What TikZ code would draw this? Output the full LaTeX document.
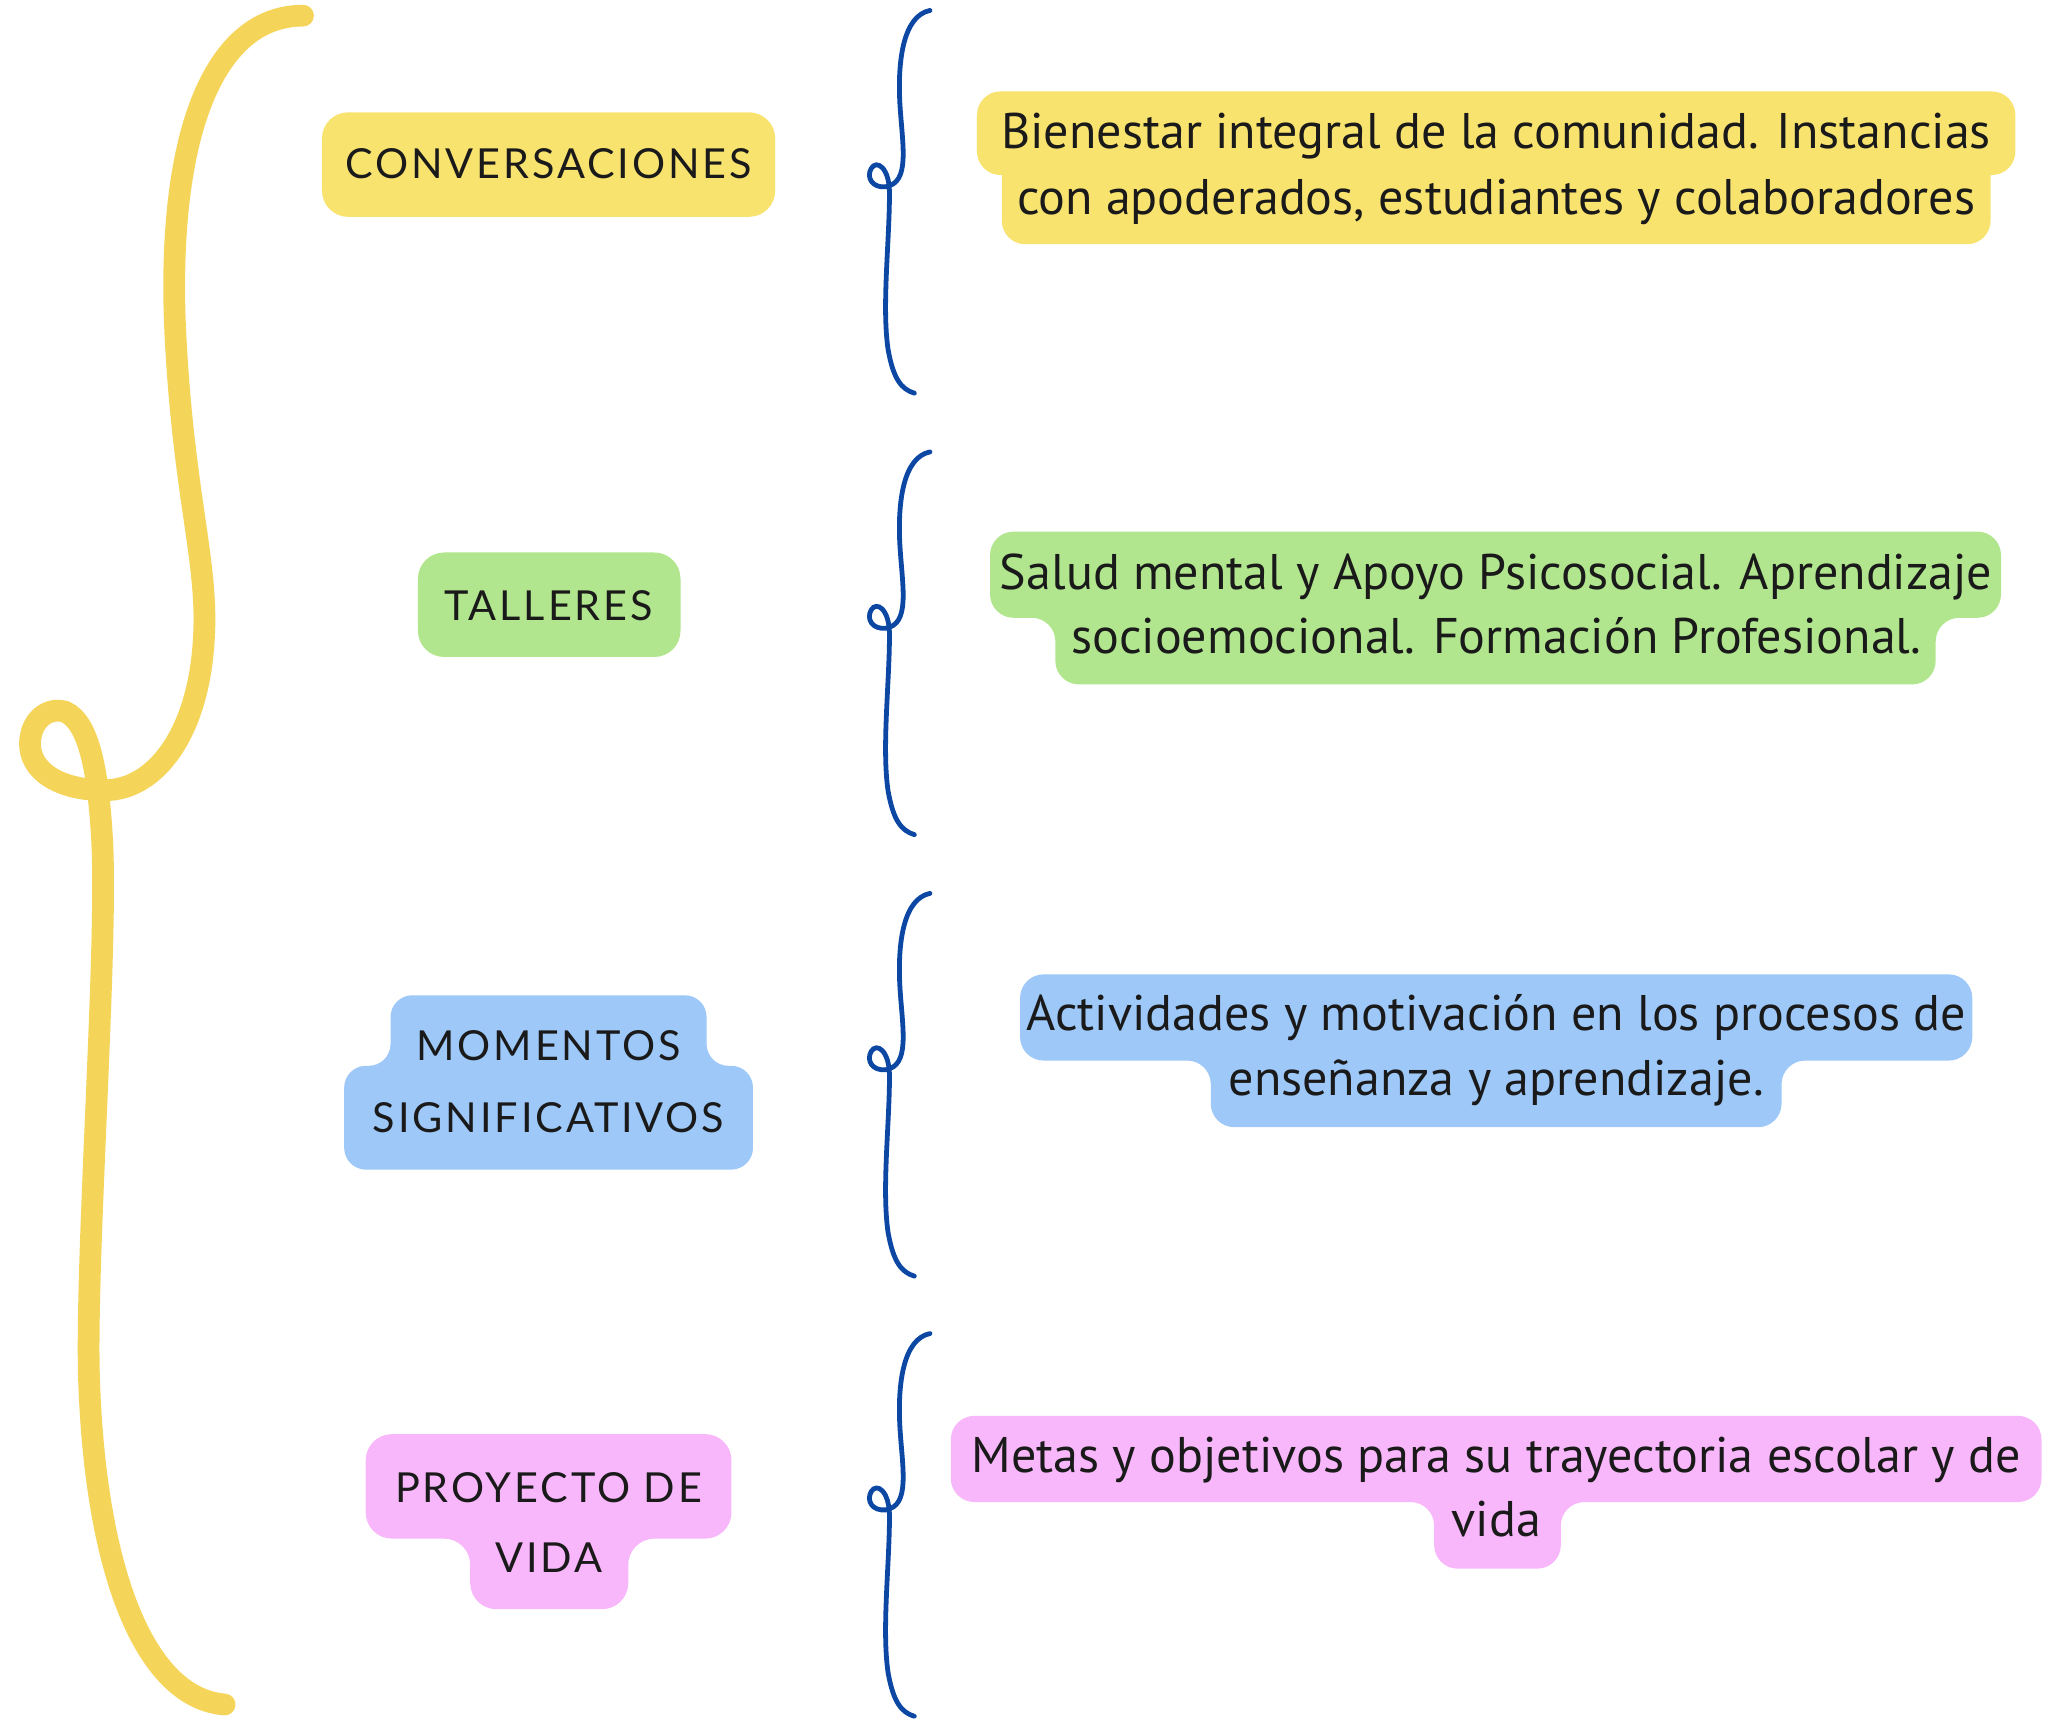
\documentclass[tikz,border=0pt]{standalone}
\usepackage{fontspec}
\setmainfont{PT Sans}
\newfontfamily\labelfont[LetterSpace=7]{Lato}
\definecolor{braceY}{HTML}{F4D55A}
\definecolor{boxY}{HTML}{F9E36F}
\definecolor{boxG}{HTML}{B1E68E}
\definecolor{boxB}{HTML}{9DC8F8}
\definecolor{boxP}{HTML}{F8B7FA}
\definecolor{braceB}{HTML}{0B47A3}
\definecolor{ink}{HTML}{1A1A1A}
% two stacked boxes: color, radius, topx1, topx2, topy, midy, botx1, botx2, boty
\newcommand\hugbox[9]{%
  \fill[#1, rounded corners=#2] (#3,#5) -- (#4,#5) -- (#4,#6) -- (#8,#6) -- (#8,#9) -- (#7,#9) -- (#7,#6) -- (#3,#6) -- cycle;}
\begin{document}
\begin{tikzpicture}[x=0.6pt,y=-0.6pt,
  lbl/.style={font=\labelfont\fontsize{19}{22}\selectfont, text=ink, inner sep=0pt, anchor=base},
  desc/.style={font=\fontsize{23}{28}\selectfont, text=ink, inner sep=0pt, anchor=base},
  bigbrace/.style={draw=braceY, line width=10pt, line cap=round},
  smallbrace/.style={draw=braceB, line width=2.2pt, line cap=round}]
\useasboundingbox (0,0) rectangle (1568,1318.4);

% ---- big yellow brace
\draw[bigbrace] (232,12) .. controls (165,12) and (128,100) .. (134,250)
  .. controls (140,380) and (160,430) .. (156,490)
  .. controls (152,560) and (120,605) .. (80,605)
  .. controls (45,605) and (22,590) .. (23,568)
  .. controls (24,550) and (38,541) .. (50,545)
  .. controls (68,553) and (75,590) .. (78,640)
  .. controls (83,720) and (66,950) .. (68,1050)
  .. controls (72,1200) and (110,1300) .. (172,1305);

% ---- small blue braces
\foreach \o in {0,338,676,1013}{
  \draw[smallbrace, shift={(0,\o)}] (712,8) .. controls (692,12) and (687,45) .. (689,80)
    .. controls (691,112) and (697,140) .. (678,143)
    .. controls (668,144) and (663,136) .. (667,129)
    .. controls (671,122) and (681,128) .. (681,148)
    .. controls (681,185) and (675,235) .. (680,268)
    .. controls (684,290) and (690,298) .. (700,301);
}

% ---- left label boxes
\fill[boxY, rounded corners=12pt] (246.5,86) rectangle (593.5,166);
\fill[boxG, rounded corners=12pt] (320,423) rectangle (521,503);
\hugbox{boxB}{10pt}{299}{541}{762}{816}{263.5}{576.5}{895.5}
\hugbox{boxP}{12pt}{280}{560}{1098}{1178}{360}{481}{1232}

\node[lbl] (conv) at (420,137) {CONVERSACIONES};
\node[lbl] (tall) at (420,475) {TALLERES};
\node[lbl] (mom1) at (420,812) {MOMENTOS};
\node[lbl] (mom2) at (420,867) {SIGNIFICATIVOS};
\node[lbl] (pro1) at (420,1150) {PROYECTO DE};
\node[lbl] (pro2) at (420,1204) {VIDA};

% ---- right description boxes
\fill[boxY, rounded corners=10.8pt] (748,70) rectangle (1543,134);
\fill[boxY, rounded corners=10.8pt] (767,105) rectangle (1524,187);
\hugbox{boxG}{10.8pt}{758}{1532}{407}{473}{808}{1482}{524}
\hugbox{boxB}{10.8pt}{781}{1510}{746}{812}{927}{1364}{863}
\hugbox{boxP}{10.8pt}{728}{1563}{1084}{1150}{1098}{1195}{1201}

\node[desc] (d1a) at (1145.5,114) {Bienestar integral de la comunidad. Instancias};
\node[desc] (d1b) at (1145.5,164) {con apoderados, estudiantes y colaboradores};
\node[desc] (d2a) at (1145.5,451) {Salud mental y Apoyo Psicosocial. Aprendizaje};
\node[desc] (d2b) at (1145.5,500) {socioemocional. Formación Profesional.};
\node[desc] (d3a) at (1145.5,789) {Actividades y motivación en los procesos de};
\node[desc] (d3b) at (1145.5,839) {enseñanza y aprendizaje.};
\node[desc] (d4a) at (1145.5,1127) {Metas y objetivos para su trayectoria escolar y de};
\node[desc] (d4b) at (1145.5,1176) {vida};
\end{tikzpicture}
\end{document}
